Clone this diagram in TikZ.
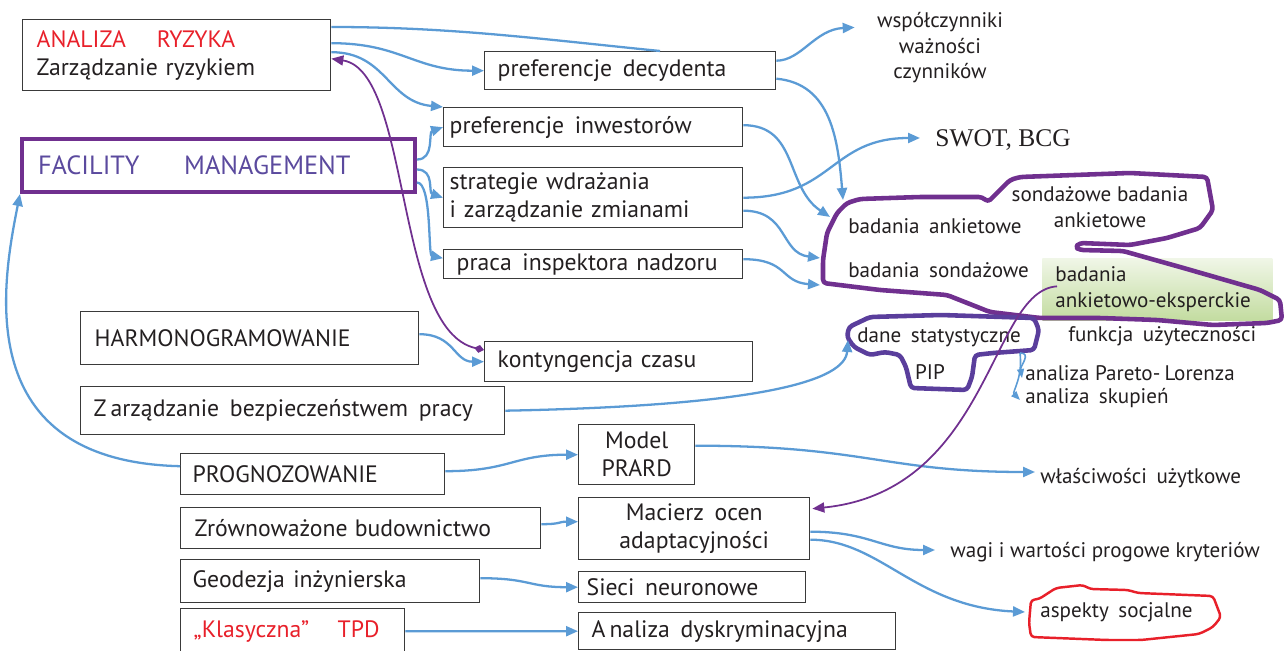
\documentclass[tikz,border=0pt]{standalone}
\usepackage{fontspec}
\setmainfont{PT Sans}
\newfontfamily\swotfont{Liberation Serif}
\usepackage{xcolor}
\usetikzlibrary{arrows.meta}

\definecolor{linkblue}{HTML}{5B9BD5}
\definecolor{fmpurple}{HTML}{70308F}
\definecolor{fmtext}{HTML}{5B4A9E}
\definecolor{blobblue}{HTML}{5A3E9C}
\definecolor{riskred}{HTML}{E8202A}
\definecolor{boxgray}{HTML}{3A3A3A}
\definecolor{inkblack}{HTML}{231F20}
\definecolor{expgreen}{HTML}{C3DCA0}

\newcommand{\hgap}{\hspace{0.45em}}

\begin{document}
\begin{tikzpicture}[x=0.02cm, y=-0.02cm,
    every node/.style={text=inkblack, font=\fontsize{13.5}{16}\selectfont},
    box/.style={draw=boxgray, line width=0.8pt, anchor=north west, align=left, inner ysep=0pt},
    note/.style={anchor=west, inner sep=0pt, align=left, font=\fontsize{12}{14.5}\selectfont},
    link/.style={draw=linkblue, line width=1.3pt, -{Triangle[length=0.24cm, width=0.2cm]}},
    plain/.style={draw=linkblue, line width=1.3pt},
    tiny/.style={draw=linkblue, line width=0.9pt, -{Triangle[length=0.18cm, width=0.14cm]}},
    tie/.style={draw=fmpurple, line width=1pt, -{Triangle[length=0.24cm, width=0.2cm]}},
    blob/.style={line width=2.6pt, rounded corners=2pt, line join=round}]

    \useasboundingbox (0,0) rectangle (1284,651);

    % left column and middle boxes
    \node (risk) [box, minimum width=6.16cm, minimum height=1.42cm, inner xsep=0.28cm, text width=5.6cm] at (22,19)
        {\textcolor{riskred}{ANALIZA\hspace{1.3em}RYZYKA}\\Zarządzanie ryzykiem};
    \node (fm) [box, draw=fmpurple, line width=2.3pt, minimum width=7.86cm, minimum height=1.06cm, inner xsep=0.32cm, text width=7.22cm, text=fmtext, font=\fontsize{15}{18}\selectfont] at (20,137)
        {FACILITY\hspace{1.7em}MANAGEMENT};
    \node (decydent) [box, minimum width=5.82cm, minimum height=0.76cm, inner xsep=0.26cm, text width=5.3cm] at (484,51) {preferencje\hgap decydenta};
    \node (inwest) [box, minimum width=5.98cm, minimum height=0.78cm, inner xsep=0.12cm, text width=5.74cm] at (443,107) {preferencje\hgap inwestorów};
    \node (strateg) [box, minimum width=5.98cm, minimum height=1.2cm, inner xsep=0.12cm, text width=5.74cm] at (443,167) {strategie wdrażania\\i zarządzanie zmianami};
    \node (praca) [box, minimum width=5.98cm, minimum height=0.58cm, inner xsep=0.26cm, text width=5.46cm] at (443,249) {praca\hgap inspektora nadzoru};
    \node (harmono) [box, minimum width=6.76cm, minimum height=1.06cm, inner xsep=0.28cm, text width=6.2cm] at (80,311) {HARMONOGRAMOWANIE};
    \node (kontyng) [box, minimum width=5.36cm, minimum height=0.8cm, inner xsep=0.26cm, text width=4.84cm] at (484,341) {kontyngencja czasu};
    \node (bhp) [box, minimum width=8.48cm, minimum height=0.96cm, inner xsep=0.26cm, text width=7.96cm] at (80,386) {Z\,arządzanie\hgap bezpieczeństwem\hgap pracy};
    \node (progn) [box, minimum width=5.28cm, minimum height=0.82cm, inner xsep=0.24cm, text width=4.8cm] at (180,453) {PROGNOZOWANIE};
    \node (prard) [box, minimum width=2.32cm, minimum height=1.2cm, inner xsep=0.1cm, text width=2.12cm, align=center] at (578,424) {Model\\PRARD};
    \node (zrown) [box, minimum width=7.2cm, minimum height=0.82cm, inner xsep=0.28cm, text width=6.64cm] at (180,507) {\mbox{Zrównoważone\hspace{0.3em}budownictwo}};
    \node (macierz) [box, minimum width=4.62cm, minimum height=1.24cm, inner xsep=0.1cm, text width=4.42cm, align=center] at (578,497) {Macierz\hgap ocen\\adaptacyjności};
    \node (geodez) [box, minimum width=5.98cm, minimum height=0.86cm, inner xsep=0.24cm, text width=5.5cm] at (180,559) {\mbox{Geodezja\hspace{0.35em}inżynierska}};
    \node (sieci) [box, minimum width=4.54cm, minimum height=0.62cm, inner xsep=0.16cm, text width=4.22cm] at (578,571) {Sieci\hgap neuronowe};
    \node (tpd) [box, minimum width=4.48cm, minimum height=0.9cm, inner xsep=0.26cm, text width=3.96cm, text=riskred] at (180,608) {\mbox{„Klasyczna”\hspace{1.2em}TPD}};
    \node (analiza) [box, minimum width=6.34cm, minimum height=0.74cm, inner xsep=0.26cm, text width=5.82cm] at (578,612) {A\,naliza\hgap dyskryminacyjna};

    % right side texts
    \node (wsp) [inner sep=0pt, align=center, font=\fontsize{12}{14.5}\selectfont] at (940,48) {współczynniki\\ważności\\czynników};
    \node (swot) [anchor=west, inner sep=0pt, font=\swotfont\fontsize{14.5}{17}\selectfont] at (935,140) {SWOT, BCG};
    \node (expert) [anchor=north west, top color=expgreen!25!white, bottom color=expgreen, minimum width=4.6cm, minimum height=1.24cm, inner xsep=0.26cm, text width=4.08cm, align=left, font=\fontsize{12}{14.5}\selectfont] at (1042,258) {badania\\ankietowo-eksperckie};
    \node (ank1) [note] at (848,226) {badania\hgap ankietowe};
    \node (sond) [note] at (848,270) {badania\hgap sondażowe};
    \node (sondank) [inner sep=0pt, align=center, font=\fontsize{12}{14.5}\selectfont] at (1100,207) {sondażowe badania\\ankietowe};
    \node (funkcja) [note] at (1068,336) {funkcja\hgap użyteczności};
    \node (dane) [note] at (857,337) {dane\hgap statystyczne};
    \node (pip) [inner sep=0pt, font=\fontsize{12}{14.5}\selectfont] at (930,372) {PIP};
    \node (pareto) [note] at (1025,373) {analiza Pareto-\hspace{0.2em}Lorenza};
    \node (skup) [note] at (1025,398) {analiza\hgap skupień};
    \node (wlasc) [note] at (1040,478) {właściwości\hgap użytkowe};
    \node (wagi) [note] at (950,552) {wagi i wartości progowe kryteriów};
    \node (aspekty) [note] at (1040,612) {aspekty\hgap socjalne};

    % hand drawn outlines
    \draw[blob, fmpurple] (847,203) -- (860,199) -- (920,197) -- (982,197) -- (988,202) -- (1010,180) -- (1020,177)
        -- (1130,173) -- (1207,177) -- (1213,210) -- (1200,228) -- (1167,238) -- (1130,245) -- (1080,243) -- (1075,247)
        -- (1080,250) -- (1123,251) -- (1180,267) -- (1260,290) -- (1280,300) -- (1282,320) -- (1267,323) -- (1213,325)
        -- (1157,320) -- (1100,318) -- (1040,318) -- (990,312) -- (947,295) -- (880,290) -- (823,283) -- (823,260)
        -- (827,233) -- (837,213) -- cycle;
    \draw[blob, blobblue] (849,327) -- (870,317) -- (941,315) -- (1034,318) -- (1039,330) -- (1034,350) -- (993,353)
        -- (975,355) -- (972,377) -- (967,390) -- (911,388) -- (906,367) -- (900,355) -- (885,352) -- (870,355)
        -- (854,347) -- (847,337) -- cycle;
    \draw[riskred, line width=1.4pt, rounded corners=2pt, line join=round] (1031,600) -- (1039,599) -- (1056,588)
        -- (1083,585) -- (1090,589) -- (1128,590) -- (1138,593) -- (1213,596) -- (1221,617) -- (1213,627) -- (1199,634)
        -- (1141,640) -- (1107,640) -- (1031,637) -- (1029,623) -- cycle;

    % connectors
    \draw[plain] ([shift={(0,8)}]risk.north east) .. controls +(120,0) and +(-120,-12) .. ([shift={(176,0)}]decydent.north west);
    \draw[link] ([shift={(0,-12)}]risk.east) .. controls +(70,0) and +(-70,0) .. (decydent.west);
    \draw[link] ([shift={(0,-3)}]risk.east) .. controls +(55,0) and +(-55,-5) .. (inwest.north west);
    \draw[link] ([shift={(0,-6)}]fm.east) .. controls +(18,0) and +(-15,5) .. (inwest.west);
    \draw[link] ([shift={(0,4)}]fm.east) .. controls +(18,0) and +(-15,-5) .. (strateg.west);
    \draw[link] ([shift={(0,17)}]fm.east) .. controls +(15,0) and +(-15,-3) .. ([shift={(0,-6)}]praca.west);
    \draw[link] ([shift={(0,-10)}]decydent.east) .. controls +(25,0) and +(-40,2) .. ([shift={(-22,15)}]wsp.north west);
    \draw[link] ([shift={(0,8)}]decydent.east) .. controls +(55,5) and +(-5,-60) .. ([shift={(-5,-26)}]ank1.west);
    \draw[link] ([shift={(0,-2)}]inwest.east) .. controls +(55,0) and +(-45,-30) .. ([shift={(-18,-9)}]ank1.west);
    \draw[link] (strateg.east) .. controls +(90,0) and +(-90,0) .. ([shift={(-15,-2)}]swot.west);
    \draw[link] ([shift={(0,13)}]strateg.east) .. controls +(45,0) and +(-40,-5) .. ([shift={(-28,-12)}]sond.west);
    \draw[link] ([shift={(0,-5)}]praca.east) .. controls +(45,0) and +(-40,-3) .. ([shift={(-28,15)}]sond.west);
    \draw[link] ([shift={(0,-4)}]harmono.east) .. controls +(35,0) and +(-30,0) .. (kontyng.west);
    \draw[tie, {Diamond[length=0.2cm, width=0.16cm]}-{Triangle[length=0.24cm, width=0.2cm]}]
        ([shift={(0,9)}]kontyng.north west) .. controls +(-90,-20) and +(80,12) .. ([shift={(0,3.5)}]risk.east);
    \draw[link] (bhp.east) .. controls +(260,-5) and +(-3,40) .. ([shift={(-9,3)}]dane.west);
    \draw[link] ([shift={(0,-8)}]progn.west) .. controls +(-210,-5) and +(-18,90) .. (fm.south west);
    \draw[link] ([shift={(0,-3)}]progn.east) .. controls +(65,0) and +(-65,0) .. (prard.west);
    \draw[link] ([shift={(0,-9)}]prard.east) .. controls +(170,0) and +(-150,0) .. ([shift={(-5,-6)}]wlasc.west);
    \draw[link] ([shift={(0,-4)}]zrown.east) .. controls +(20,0) and +(-20,0) .. ([shift={(0,-7)}]macierz.west);
    \draw[tie] ([shift={(15,-3)}]expert.west) .. controls +(-67,4) and +(178,-18) .. ([shift={(2,-20)}]macierz.east);
    \draw[link] ([shift={(0,3)}]macierz.east) .. controls +(60,0) and +(-55,0) .. ([shift={(-15,-2)}]wagi.west);
    \draw[link] ([shift={(0,11)}]macierz.east) .. controls +(70,0) and +(-110,-5) .. ([shift={(-15,0)}]aspekty.west);
    \draw[link] ([shift={(0,-3)}]geodez.east) .. controls +(50,0) and +(-50,0) .. (sieci.west);
    \draw[link] (tpd.east) -- (analiza.west);
    \draw[tiny] ([shift={(-5,-20)}]pareto.west) .. controls +(12,0) and +(-2,-12) .. ([shift={(-3,5)}]pareto.west);
    \draw[tiny] ([shift={(-5,-20)}]pareto.west) .. controls +(3,25) and +(-8,-8) .. ([shift={(-5,2)}]skup.west);
\end{tikzpicture}
\end{document}
